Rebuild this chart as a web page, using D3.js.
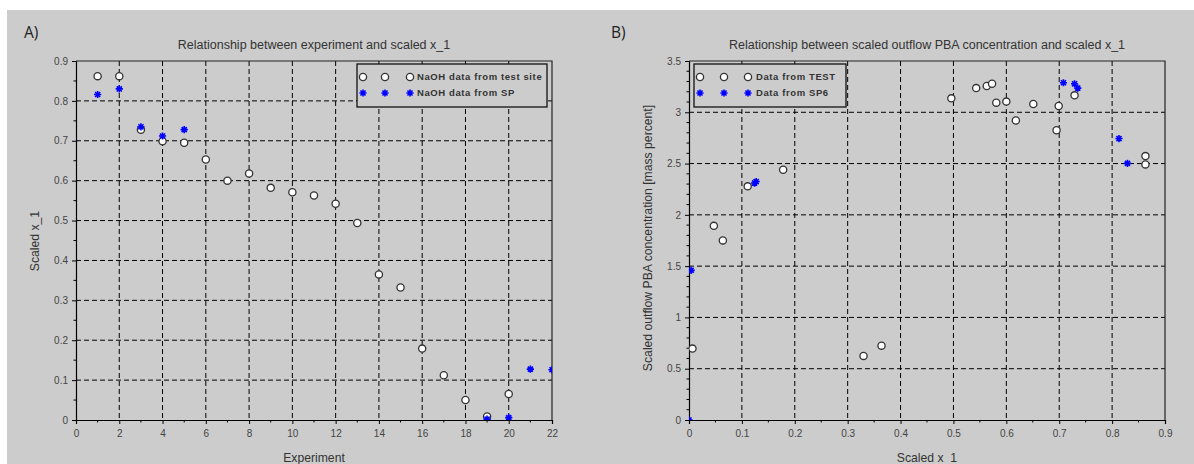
<!DOCTYPE html>
<html><head><meta charset="utf-8">
<script src="https://cdn.jsdelivr.net/npm/d3@7/dist/d3.min.js"></script>
<style>body{margin:0;background:#fff}svg{display:block}</style>
</head><body>
<script>
// ---- Panel A data ----
const expTest = [1,2,3,4,5,6,7,8,9,10,11,12,13,14,15,16,17,18,19,20];
const x1Test  = [0.862,0.862,0.7275,0.699,0.695,0.653,0.600,0.618,0.582,0.571,0.563,0.542,0.494,0.365,0.332,0.179,0.112,0.050,0.009,0.065];
const expSP   = [1,2,3,4,5,19,20,21,22];
const x1SP    = [0.816,0.830,0.735,0.712,0.728,0.002,0.006,0.1275,0.126];
const xTicksA = [0,2,4,6,8,10,12,14,16,18,20,22];
const yTicksA = [0,0.1,0.2,0.3,0.4,0.5,0.6,0.7,0.8,0.9];
// ---- Panel B data ----
const bTestX = [0.0066,0.047,0.064,0.111,0.178,0.330,0.364,0.496,0.543,0.563,0.573,0.581,0.600,0.618,0.651,0.699,0.695,0.729,0.863,0.863];
const bTestY = [0.696,1.893,1.751,2.278,2.440,0.625,0.725,3.136,3.236,3.256,3.278,3.094,3.104,2.920,3.081,3.061,2.825,3.165,2.573,2.492];
const bSPX   = [0.0,0.004,0.124,0.127,0.708,0.729,0.735,0.813,0.829];
const bSPY   = [0.0,1.459,2.310,2.325,3.288,3.278,3.236,2.744,2.502];
const xTicksB = [0,0.1,0.2,0.3,0.4,0.5,0.6,0.7,0.8,0.9];
const yTicksB = [0,0.5,1,1.5,2,2.5,3,3.5];

const W=1194,H=464;
const svg=d3.select("body").append("svg").attr("width",W).attr("height",H);
svg.append("rect").attr("x",7).attr("y",10).attr("width",W-7).attr("height",H-10).attr("fill","#cccccc");
const FONT="'Liberation Sans', Arial, sans-serif";

function star(g,x,y,r){
  const p=d3.path();
  for(let k=0;k<4;k++){const a=k*Math.PI/4;p.moveTo(x-r*Math.cos(a),y-r*Math.sin(a));p.lineTo(x+r*Math.cos(a),y+r*Math.sin(a));}
  g.append("path").attr("d",p.toString()).attr("stroke","#0000ff").attr("stroke-width",1.6).attr("fill","none");
}
function circ(g,x,y){
  g.append("circle").attr("cx",x).attr("cy",y).attr("r",3.6).attr("fill","#fff").attr("stroke","#333").attr("stroke-width",1.3);
}

function panel(o){
  const {id,left,right,top,bottom,xd,yd,xt,yt,xminor,yminor,title,xlab,ylab,ylabX,ylabY,tag,tagX,xs1,ys1,xs2,ys2,legend}=o;
  const x=d3.scaleLinear().domain(xd).range([left,right]);
  const y=d3.scaleLinear().domain(yd).range([bottom,top]);
  const g=svg.append("g");
  // grid
  g.append("g").selectAll("line").data(xt.slice(1,-1)).join("line")
    .attr("x1",d=>x(d)).attr("x2",d=>x(d)).attr("y1",top).attr("y2",bottom)
    .attr("stroke","#000").attr("stroke-dasharray","5,3").attr("stroke-width",1);
  g.append("g").selectAll("line").data(yt.slice(1,-1)).join("line")
    .attr("y1",d=>y(d)).attr("y2",d=>y(d)).attr("x1",left).attr("x2",right)
    .attr("stroke","#000").attr("stroke-dasharray","5,3").attr("stroke-width",1);
  // axes
  const ax=g.append("g").attr("transform",`translate(0,${bottom})`)
    .call(d3.axisBottom(x).tickValues(xt).tickSize(4).tickPadding(6).tickFormat(d=>String(+d.toFixed(2))));
  const ay=g.append("g").attr("transform",`translate(${left},0)`)
    .call(d3.axisLeft(y).tickValues(yt).tickSize(4).tickPadding(4).tickFormat(d=>String(+d.toFixed(2))));
  [ax,ay].forEach(a=>{a.select(".domain").attr("stroke","#000").attr("stroke-width",1.2);
    a.selectAll(".tick line").attr("stroke","#000");
    a.selectAll("text").attr("font-family",FONT).attr("font-size",10).attr("fill","#444");});
  g.append("g").selectAll("line").data(xminor).join("line")
    .attr("x1",d=>x(d)).attr("x2",d=>x(d)).attr("y1",bottom).attr("y2",bottom+2.5).attr("stroke","#000");
  g.append("g").selectAll("line").data(yminor).join("line")
    .attr("y1",d=>y(d)).attr("y2",d=>y(d)).attr("x1",left).attr("x2",left-2.5).attr("stroke","#000");
  // box
  g.append("path").attr("d",`M${left},${top}H${right}V${bottom}`).attr("fill","none").attr("stroke","#222").attr("stroke-width",1.2);
  // data
  svg.append("clipPath").attr("id","clip"+id).append("rect").attr("x",left).attr("y",top-1).attr("width",right-left).attr("height",bottom-top+1);
  const m=g.append("g").attr("clip-path",`url(#clip${id})`);
  xs1.forEach((v,i)=>circ(m,x(v),y(ys1[i])));
  xs2.forEach((v,i)=>star(m,x(v),y(ys2[i]),3.6));
  // legend
  const lg=g.append("g");
  lg.append("rect").attr("x",legend.x).attr("y",legend.y).attr("width",legend.w).attr("height",legend.h)
    .attr("fill","#cccccc").attr("stroke","#111").attr("stroke-width",1.3);
  legend.mx.forEach(mx=>{circ(lg,mx,legend.y+13);star(lg,mx,legend.y+29,3.6);});
  legend.labels.forEach((t,i)=>lg.append("text").attr("x",legend.tx).attr("y",legend.y+13+16*i).attr("dy","0.35em")
    .attr("font-family",FONT).attr("font-size",9.5).attr("font-weight","bold").attr("letter-spacing",0.6).attr("fill","#333").text(t));
  // texts
  g.append("text").attr("x",(left+right)/2).attr("y",49).attr("text-anchor","middle")
    .attr("font-family",FONT).attr("font-size",12.5).attr("fill","#333").text(title);
  g.append("text").attr("x",(left+right)/2).attr("y",462).attr("text-anchor","middle")
    .attr("font-family",FONT).attr("font-size",12.2).attr("fill","#333").text(xlab);
  g.append("text").attr("transform",`translate(${ylabX},${ylabY}) rotate(-90)`).attr("text-anchor","middle")
    .attr("font-family",FONT).attr("font-size",12.2).attr("fill","#333").text(ylab);
  g.append("text").attr("x",tagX).attr("y",38).attr("font-family","'Open Sans', sans-serif").attr("font-size",15.5).attr("fill","#222").text(tag);
}

panel({id:"A",left:76,right:552,top:61,bottom:420,xd:[0,22],yd:[0,0.9],xt:xTicksA,yt:yTicksA,
  xminor:d3.range(1,22,2),yminor:d3.range(0.05,0.9,0.1),
  title:"Relationship between experiment and scaled x_1",xlab:"Experiment",ylab:"Scaled x_1",ylabX:39,ylabY:241,
  tag:"A)",tagX:24,xs1:expTest,ys1:x1Test,xs2:expSP,ys2:x1SP,
  legend:{x:357,y:64,w:190,h:43,mx:[363,385,410],tx:417,labels:["NaOH data from test site","NaOH data from SP"]}});
panel({id:"B",left:689,right:1165,top:61,bottom:420,xd:[0,0.9],yd:[0,3.5],xt:xTicksB,yt:yTicksB,
  xminor:d3.range(0.05,0.9,0.1),yminor:d3.range(0.1,3.5,0.1).filter(v=>Math.abs(v*2-Math.round(v*2))>1e-6),
  title:"Relationship between scaled outflow PBA concentration and scaled x_1",xlab:"Scaled  x_1",
  ylab:"Scaled outflow PBA concentration [mass percent]",ylabX:652,ylabY:238,
  tag:"B)",tagX:611,xs1:bTestX,ys1:bTestY,xs2:bSPX,ys2:bSPY,
  legend:{x:694,y:64,w:152,h:43,mx:[700,724,748],tx:756,labels:["Data from TEST","Data from SP6"]}});
</script>
</body></html>
